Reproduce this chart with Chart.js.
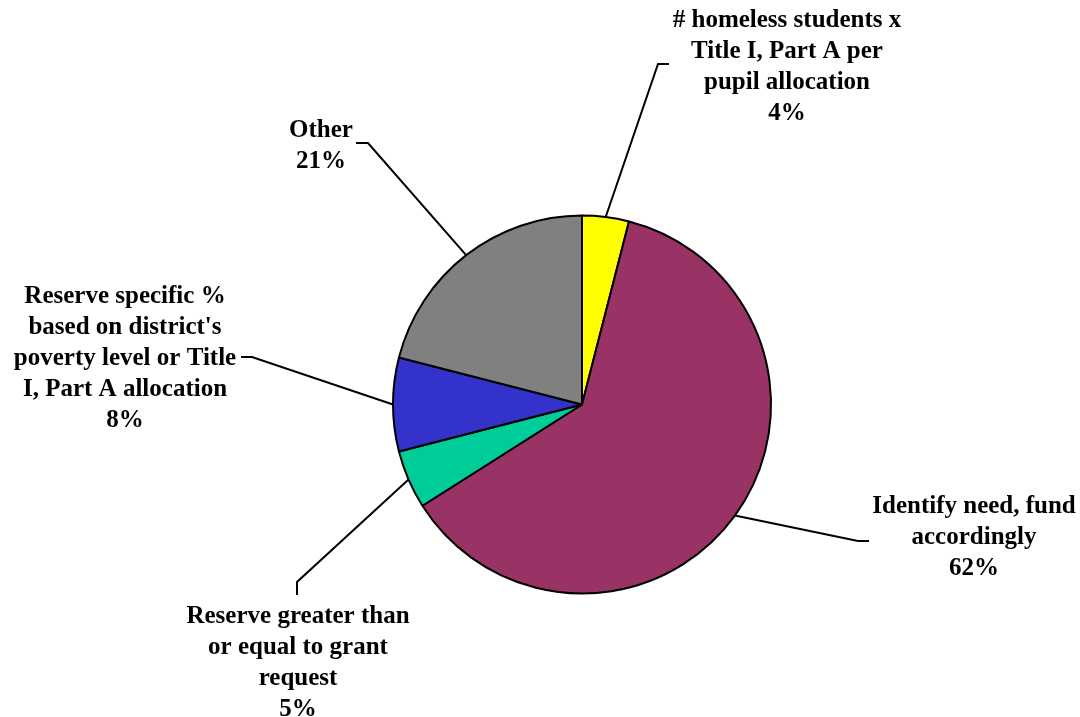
<!DOCTYPE html>
<html>
<head>
<meta charset="utf-8">
<script src="https://cdn.jsdelivr.net/npm/chart.js@4.4.1/dist/chart.umd.min.js"></script>
<style>
  html, body { margin: 0; padding: 0; background: #fff; }
  #wrap { width: 1080px; height: 717px; }
</style>
</head>
<body>
<div id="wrap"><canvas id="pie" width="1080" height="717"></canvas></div>
<script>
// slices, clockwise from 12 o'clock
const categories = [
  ['# homeless students x', 'Title I, Part A per', 'pupil allocation'],
  ['Identify need, fund', 'accordingly'],
  ['Reserve greater than', 'or equal to grant', 'request'],
  ['Reserve specific %', "based on district's", 'poverty level or Title', 'I, Part A allocation'],
  ['Other']
];
const shares = [4, 62, 5, 8, 21];
const sliceColors = ['#FFFF00', '#993366', '#00CC99', '#3333CC', '#808080'];

// where each callout sits: elbow of the leader, end of the short tail, text centre x, first baseline
const calloutLayout = [
  { elbow: [658, 64], tail: [669, 64], tx: 787, ty: 27 },
  { elbow: [858, 541], tail: [869, 541], tx: 974, ty: 513 },
  { elbow: [297, 582], tail: [297, 595], tx: 298, ty: 623 },
  { elbow: [252, 357], tail: [241, 357], tx: 125, ty: 303 },
  { elbow: [368, 143], tail: [356, 143], tx: 321, ty: 137 }
];
const LINE_H = 31;

const callouts = {
  id: 'callouts',
  afterDatasetsDraw(chart) {
    const ctx = chart.ctx;
    const arcs = chart.getDatasetMeta(0).data;
    ctx.save();
    ctx.strokeStyle = '#000';
    ctx.lineWidth = 2;
    ctx.fillStyle = '#000';
    ctx.font = 'bold 25px "Liberation Serif", "Times New Roman", serif';
    ctx.textAlign = 'center';
    ctx.textBaseline = 'alphabetic';
    arcs.forEach((arc, i) => {
      const p = arc.getProps(['x', 'y', 'startAngle', 'endAngle', 'outerRadius'], true);
      const mid = (p.startAngle + p.endAngle) / 2;
      const ax = p.x + Math.cos(mid) * p.outerRadius;
      const ay = p.y + Math.sin(mid) * p.outerRadius;
      const L = calloutLayout[i];
      ctx.beginPath();
      ctx.moveTo(ax, ay);
      ctx.lineTo(L.elbow[0], L.elbow[1]);
      ctx.lineTo(L.tail[0], L.tail[1]);
      ctx.stroke();
      const lines = categories[i].concat([shares[i] + '%']);
      lines.forEach((t, k) => ctx.fillText(t, L.tx, L.ty + k * LINE_H));
    });
    ctx.restore();
  }
};

new Chart(document.getElementById('pie'), {
  type: 'pie',
  data: {
    labels: categories.map(c => c.join(' ')),
    datasets: [{
      data: shares,
      backgroundColor: sliceColors,
      borderColor: '#000',
      borderWidth: 2
    }]
  },
  options: {
    responsive: false,
    animation: false,
    layout: { padding: { left: 392, right: 308, top: 214, bottom: 122 } },
    plugins: {
      legend: { display: false },
      tooltip: { enabled: false }
    }
  },
  plugins: [callouts]
});
</script>
</body>
</html>
